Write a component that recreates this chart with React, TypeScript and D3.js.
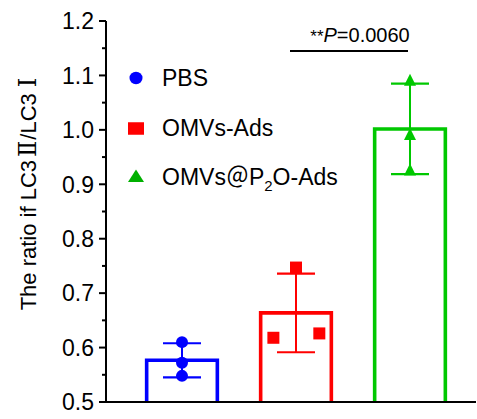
import React from 'react';
import * as d3 from 'd3';

const categories = ['PBS', 'OMVs-Ads', 'OMVs@P2O-Ads'];
const pbsValues = [0.61, 0.572, 0.548];
const omvsAdsValues = [0.618, 0.747, 0.626];
const p2oValues = [1.09, 0.99, 0.925];
const pbsJitter = [0, 0, 0];
const omvsAdsJitter = [-0.32, 0, 0.33];
const p2oJitter = [0, 0, 0];
const yTicks = [0.5, 0.6, 0.7, 0.8, 0.9, 1.0, 1.1, 1.2];
const yMinorTicks = [0.55, 0.65, 0.75, 0.85, 0.95, 1.05, 1.15];
const significanceLabel = '=0.0060';

const colors = ['#0000ff', '#ff0000', '#00c800'];
const legendColors = ['#0000ff', '#ff0000', '#00b000'];
const shapes = ['circle', 'square', 'triangle'];

const W = 477;
const H = 419;
const FONT = 'Arial, "Liberation Sans", Helvetica, sans-serif';

function Marker({ shape, x, y, color, w = 12, h = 12 }: any) {
  if (shape === 'circle') return <ellipse cx={x} cy={y} rx={w / 2} ry={h / 2} fill={color} />;
  if (shape === 'square') return <rect x={x - w / 2} y={y - h / 2} width={w} height={h} fill={color} />;
  const p = `M${x},${y - h * 0.6} L${x + w / 2},${y + h * 0.4} L${x - w / 2},${y + h * 0.4} Z`;
  return <path d={p} fill={color} />;
}

export default function App() {
  const series = [
    { name: categories[0], values: pbsValues, jitter: pbsJitter },
    { name: categories[1], values: omvsAdsValues, jitter: omvsAdsJitter },
    { name: categories[2], values: p2oValues, jitter: p2oJitter },
  ];

  const y = d3.scaleLinear().domain([0.5, 1.2]).range([402, 21]);
  const x = d3.scaleBand<string>().domain(categories).range([125, 467]).paddingInner(0.38).paddingOuter(0.19);
  const bw = x.bandwidth();
  const cxOf = (c: string) => (x(c) as number) + bw / 2;

  return (
    <svg width={W} height={H} style={{ position: 'absolute', left: 0, top: 0, background: '#fff' }} fontFamily={FONT}>
      <rect x={0} y={0} width={W} height={H} fill="#fff" />
      {/* bars */}
      {series.map((s, i) => {
        const m = d3.mean(s.values) as number;
        const sd = d3.deviation(s.values) as number;
        const x0 = x(s.name) as number;
        const cx = x0 + bw / 2;
        return (
          <g key={s.name}>
            <path
              d={`M${x0},${y(0.5)} L${x0},${y(m)} L${x0 + bw},${y(m)} L${x0 + bw},${y(0.5)}`}
              fill="none"
              stroke={colors[i]}
              strokeWidth={3.6}
            />
            <line x1={cx} x2={cx} y1={y(m - sd)} y2={y(m + sd)} stroke={colors[i]} strokeWidth={2} />
            <line x1={cx - 19} x2={cx + 19} y1={y(m + sd)} y2={y(m + sd)} stroke={colors[i]} strokeWidth={2.2} />
            <line x1={cx - 19} x2={cx + 19} y1={y(m - sd)} y2={y(m - sd)} stroke={colors[i]} strokeWidth={2.2} />
            {s.values.map((v, j) => (
              <Marker key={j} shape={shapes[i]} x={cx + s.jitter[j] * bw} y={y(v)} color={colors[i]} w={12} h={12} />
            ))}
          </g>
        );
      })}

      {/* axes */}
      <line x1={106} x2={106} y1={y(1.2)} y2={y(0.5) + 1} stroke="#000" strokeWidth={2} />
      <line x1={105} x2={476} y1={y(0.5)} y2={y(0.5)} stroke="#000" strokeWidth={2.2} />
      {yTicks.map((t) => (
        <g key={t}>
          <line x1={99} x2={106} y1={y(t)} y2={y(t)} stroke="#000" strokeWidth={2} />
          <text x={94} y={y(t)} dy="0.36em" textAnchor="end" fontSize={23} fill="#000">
            {d3.format('.1f')(t)}
          </text>
        </g>
      ))}
      {yMinorTicks.map((t) => (
        <line key={t} x1={102} x2={106} y1={y(t)} y2={y(t)} stroke="#000" strokeWidth={2} />
      ))}

      {/* y label */}
      <text transform="translate(36,194) rotate(-90)" textAnchor="middle" fontSize={22} fill="#000">
        The ratio if LC3
        <tspan fontFamily='"DejaVu Serif"' fontSize={24} dx={3}>Ⅱ</tspan>
        <tspan dx={1}>/LC3</tspan>
        <tspan fontFamily='"DejaVu Serif"' fontSize={24} dx={6}>Ⅰ</tspan>
      </text>

      {/* legend */}
      {categories.map((c, i) => {
        const ly = 78 + i * 49.5;
        return (
          <g key={c}>
            <Marker shape={shapes[i]} x={136} y={ly + (i === 1 ? 1 : 0)} color={legendColors[i]} w={i === 0 ? 13 : 16} h={12.5} />
            <text x={162} y={ly} dy="0.36em" fontSize={23} fill="#000">
              {i === 2 ? (
                <>
                  OMVs<tspan fontFamily='"Noto Sans CJK SC"'>＠</tspan>P
                  <tspan fontSize={15} dy={6}>2</tspan>
                  <tspan dy={-6}>O-Ads</tspan>
                </>
              ) : (
                c
              )}
            </text>
          </g>
        );
      })}

      {/* significance */}
      <line
        x1={cxOf(categories[1]) - 6}
        x2={cxOf(categories[2]) - 2}
        y1={51}
        y2={51}
        stroke="#000"
        strokeWidth={2}
      />
      <text x={360} y={42} textAnchor="middle" fontSize={20} fill="#000">
        <tspan fontSize={17}>**</tspan>
        <tspan fontStyle="italic">P</tspan>
        {significanceLabel}
      </text>
    </svg>
  );
}
